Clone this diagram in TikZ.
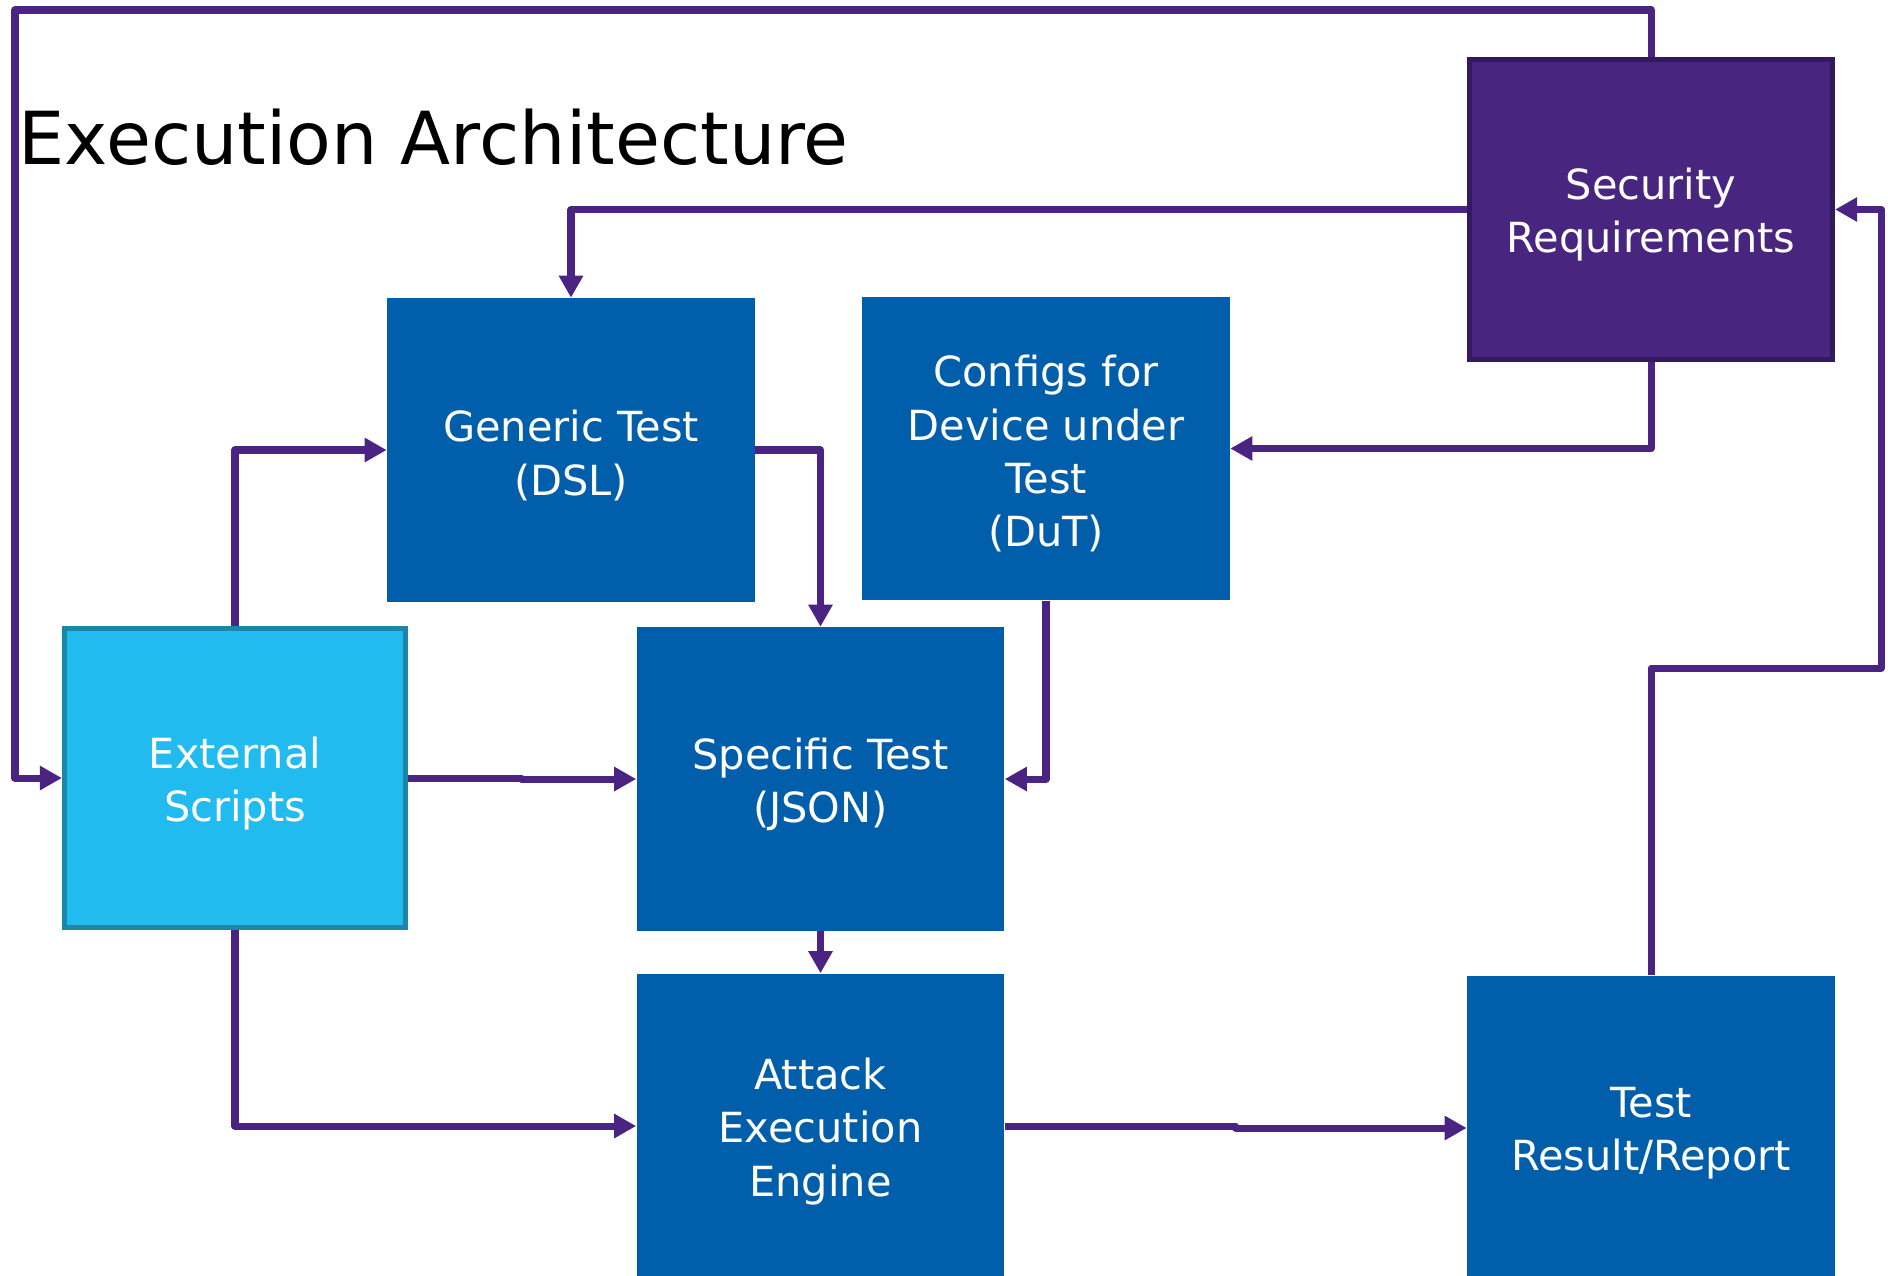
\documentclass[tikz,border=0pt]{standalone}
\usepackage{fontspec}
\setmainfont{DejaVu Sans}
\usetikzlibrary{arrows.meta, positioning, calc}
\definecolor{SecPurple}{HTML}{48257F}
\definecolor{SecBorder}{HTML}{33195E}
\definecolor{LinePurple}{HTML}{4A2383}
\definecolor{BoxBlue}{HTML}{005EAA}
\definecolor{ScriptCyan}{HTML}{21BBEF}
\definecolor{ScriptBorder}{HTML}{1A87A9}

\begin{document}
\begin{tikzpicture}[
    x=0.01cm, y=-0.01cm,
    block/.style={rectangle, fill=BoxBlue, inner sep=0pt,
                  minimum width=3.67cm, minimum height=3.03cm},
    blocktext/.style={text=white, align=center, inner sep=0pt, yshift=-1.5pt,
                      font=\fontsize{11.8}{15.2}\selectfont},
    conn/.style={-{Triangle[length=6.3pt, width=6.6pt]}, LinePurple,
                 line width=2pt, line join=round}
]
    \useasboundingbox (0,0) rectangle (1888,1275);

    % Title
    \node[anchor=base west, inner sep=0pt, font=\fontsize{20.8}{25}\selectfont] (title)
        at (18,164) {Execution Architecture};

    % Blocks
    \node[block, fill=SecPurple, draw=SecBorder, line width=1.4pt,
          minimum width=3.63cm, minimum height=3.0cm,
          label={[blocktext]center:Security\\Requirements}] (secreq) at (1651,209.5) {};
    \node[block, label={[blocktext]center:Generic Test\\(DSL)}] (generic) at (571,450) {};
    \node[block, label={[blocktext]center:Configs for\\Device under\\Test\\(DuT)}]
        (configs) at (1046,448.5) {};
    \node[block, fill=ScriptCyan, draw=ScriptBorder, line width=1.4pt,
          minimum width=3.41cm, minimum height=2.99cm,
          label={[blocktext]center:External\\Scripts}] (extscripts) at (235,778) {};
    \node[block, label={[blocktext]center:Specific Test\\(JSON)}] (specific) at (820.5,779) {};
    \node[block, minimum height=3.04cm,
          label={[blocktext]center:Attack\\Execution\\Engine}] (attack) at (820.5,1126) {};
    \node[block, minimum height=3.04cm,
          label={[blocktext]center:Test\\Result/Report}] (testres) at (1651,1128) {};

    % Turning points
    \coordinate (topleft) at (15,10);
    \coordinate (rightturn) at (1881,668);

    % Connectors
    \draw[conn] (secreq.north) |- (topleft) |- (extscripts.west);
    \draw[conn] (secreq.west) -| (generic.north);
    \draw[conn] (secreq.south) |- (configs.east);
    \draw[conn] (extscripts.north) |- (generic.west);
    \draw[conn] (generic.east) -| (specific.north);
    \draw[conn] (configs.south) |- (specific.east);
    \draw[conn] (extscripts.east) -- ++(113,0) |- (specific.west);
    \draw[conn] (specific) -- (attack);
    \draw[conn] (extscripts.south) |- (attack.west);
    \draw[conn] (attack.east) -- ++(231,0) |- (testres.west);
    \draw[conn] (testres.north) |- (rightturn) |- (secreq.east);
\end{tikzpicture}
\end{document}
